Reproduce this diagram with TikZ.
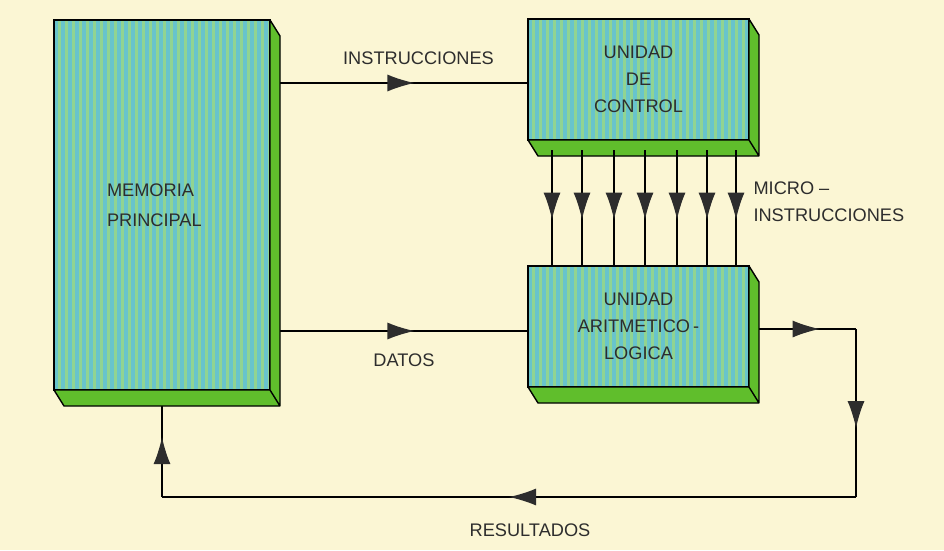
\documentclass[tikz,border=0pt]{standalone}
\usepackage{fontspec}
\setmainfont{Liberation Sans}
\usetikzlibrary{arrows.meta,calc,decorations.markings}
\definecolor{paper}{RGB}{251,246,212}
\definecolor{facegreen}{RGB}{145,212,145}
\definecolor{facecyan}{RGB}{104,196,204}
\definecolor{sidegreen}{RGB}{96,190,44}
\definecolor{ink}{RGB}{45,45,45}

\begin{document}
\begin{tikzpicture}[x=1pt,y=-1pt,font=\fontsize{18.2}{27}\selectfont,
unitbox/.style={draw,line width=1.4pt,fill=facegreen,align=center,inner sep=0pt,outer sep=0pt,text=ink,
  path picture={\foreach \i in {2,9,...,230}
    \draw[facecyan,line width=3.5pt] ([xshift=\i]path picture bounding box.south west) -- ([xshift=\i]path picture bounding box.north west);}},
flow/.style={draw=black,line width=1.3pt},
midarrow/.style={flow,postaction={decorate},
  decoration={markings,mark=at position #1 with {\arrow[ink]{Latex[length=27pt,width=17pt]}}}},
lbl/.style={text=ink,align=left}]
\fill[paper] (0,0) rectangle (944,550);
% the three units
\node[unitbox,align=left,text width=110pt,font=\fontsize{18.2}{30}\selectfont,minimum width=216pt,minimum height=370pt] (mem) at (162,205) {MEMORIA\\PRINCIPAL};
\node[unitbox,minimum width=221pt,minimum height=121pt] (cu) at (638.5,79.5) {UNIDAD\\DE\\CONTROL};
\node[unitbox,minimum width=221pt,minimum height=121pt] (alu) at (638.5,326.5) {UNIDAD\\ARITMETICO\,-\\LOGICA};
% connection points and loop back to memory
\coordinate (cuin) at ([yshift=-3.5pt]cu.west);
\coordinate (aluin) at ([yshift=-4.5pt]alu.west);
\coordinate (aluout) at ([yshift=-2.5pt]alu.east);
\coordinate (r1) at (856,0 |- aluout);
\coordinate (r2) at (856,497);
\coordinate (r3) at (mem.south |- r2);
\draw[midarrow=.56] (cuin -| mem.east) -- (cuin);
\draw[midarrow=.56] (aluin -| mem.east) -- (aluin);
\draw[midarrow=.66] (aluout) -- (r1);
\draw[midarrow=.59] (r1) -- (r2);
\draw[midarrow=.50] (r2) -- (r3);
\draw[midarrow=.56] (r3) -- (mem.south);
% 3d sides
\foreach \b in {mem,cu,alu}
  \filldraw[fill=sidegreen,draw=black,line width=1.4pt,line join=round]
    (\b.north east) -- ++(10,16) -- ($(\b.south east)+(10,16)$) -- ($(\b.south west)+(10,16)$)
    -- (\b.south west) -- (\b.south east) -- cycle (\b.south east) -- ++(10,16);
% micro-instructions
\foreach \dx in {24,54,86,117,149,179,208}
  \draw[midarrow=.6] ([shift={(\dx,10)}]cu.south west) -- ([xshift=\dx]alu.north west);
\node[lbl] (tinstr) at (418.5,58) {INSTRUCCIONES};
\node[lbl] (tdatos) at (404,360) {DATOS};
\node[lbl,anchor=west] (tmicro) at (750,202) {MICRO –\\INSTRUCCIONES};
\node[lbl] (tres) at (530,530) {RESULTADOS};
\end{tikzpicture}
\end{document}
